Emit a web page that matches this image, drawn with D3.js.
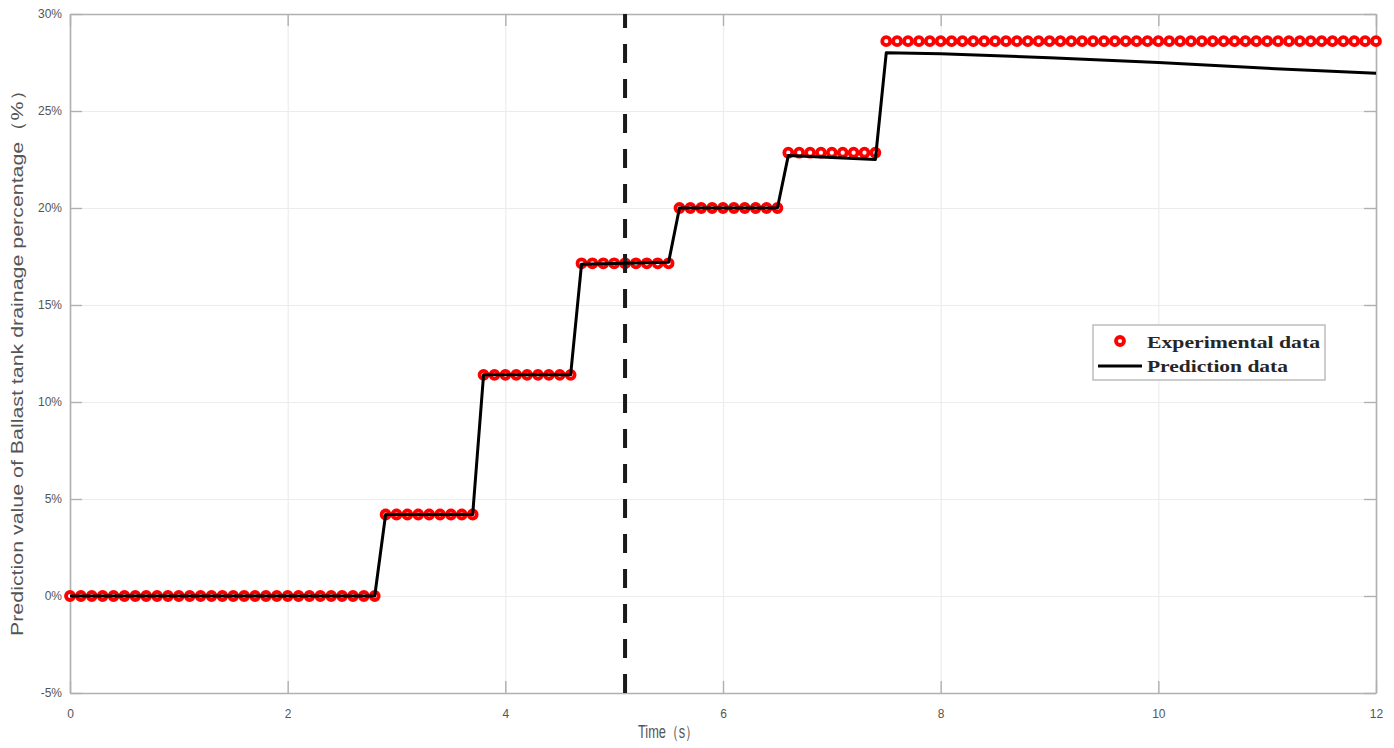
<!DOCTYPE html>
<html>
<head>
<meta charset="utf-8">
<script src="https://cdn.jsdelivr.net/npm/d3@7"></script>
<style>
    body { margin: 0; background: #fff; }
    svg { display: block; }
</style>
</head>
<body>
<svg id="chart" width="1394" height="748"></svg>
<script>
// Experimental data (time in s, value in %)
const expTime = [
    0, 0.1, 0.2, 0.3, 0.4, 0.5, 0.6, 0.7, 0.8, 0.9,
    1, 1.1, 1.2, 1.3, 1.4, 1.5, 1.6, 1.7, 1.8, 1.9,
    2, 2.1, 2.2, 2.3, 2.4, 2.5, 2.6, 2.7, 2.8, 2.9,
    3, 3.1, 3.2, 3.3, 3.4, 3.5, 3.6, 3.7, 3.8, 3.9,
    4, 4.1, 4.2, 4.3, 4.4, 4.5, 4.6, 4.7, 4.8, 4.9,
    5, 5.1, 5.2, 5.3, 5.4, 5.5, 5.6, 5.7, 5.8, 5.9,
    6, 6.1, 6.2, 6.3, 6.4, 6.5, 6.6, 6.7, 6.8, 6.9,
    7, 7.1, 7.2, 7.3, 7.4, 7.5, 7.6, 7.7, 7.8, 7.9,
    8, 8.1, 8.2, 8.3, 8.4, 8.5, 8.6, 8.7, 8.8, 8.9,
    9, 9.1, 9.2, 9.3, 9.4, 9.5, 9.6, 9.7, 9.8, 9.9,
    10, 10.1, 10.2, 10.3, 10.4, 10.5, 10.6, 10.7, 10.8, 10.9,
    11, 11.1, 11.2, 11.3, 11.4, 11.5, 11.6, 11.7, 11.8, 11.9,
    12
];
const expValue = [
    0, 0, 0, 0, 0, 0, 0, 0, 0, 0,
    0, 0, 0, 0, 0, 0, 0, 0, 0, 0,
    0, 0, 0, 0, 0, 0, 0, 0, 0, 4.2,
    4.2, 4.2, 4.2, 4.2, 4.2, 4.2, 4.2, 4.2, 11.4, 11.4,
    11.4, 11.4, 11.4, 11.4, 11.4, 11.4, 11.4, 17.15, 17.15, 17.15,
    17.15, 17.15, 17.15, 17.15, 17.15, 17.15, 20, 20, 20, 20,
    20, 20, 20, 20, 20, 20, 22.85, 22.85, 22.85, 22.85,
    22.85, 22.85, 22.85, 22.85, 22.85, 28.6, 28.6, 28.6, 28.6, 28.6,
    28.6, 28.6, 28.6, 28.6, 28.6, 28.6, 28.6, 28.6, 28.6, 28.6,
    28.6, 28.6, 28.6, 28.6, 28.6, 28.6, 28.6, 28.6, 28.6, 28.6,
    28.6, 28.6, 28.6, 28.6, 28.6, 28.6, 28.6, 28.6, 28.6, 28.6,
    28.6, 28.6, 28.6, 28.6, 28.6, 28.6, 28.6, 28.6, 28.6, 28.6,
    28.6
];

// Prediction data (polyline)
const predTime = [0, 2.8, 2.9, 3.7, 3.8, 4.6, 4.7, 5.5, 5.6, 6.5, 6.6, 7.4, 7.5, 8, 9, 10, 11, 12];
const predValue = [0, 0, 4.2, 4.2, 11.4, 11.4, 17.1, 17.2, 20.0, 20.0, 22.7, 22.5, 28.0, 27.95, 27.75, 27.5, 27.2, 26.95];

// Vertical dashed marker
const splitTime = 5.1;

const xTicks = [0, 2, 4, 6, 8, 10, 12];
const yTicks = [-5, 0, 5, 10, 15, 20, 25, 30];

const legendLabels = ['Experimental data', 'Prediction data'];

const svg = d3.select('#chart');
const margin = { top: 14, right: 18, bottom: 55, left: 70 };
const width = +svg.attr('width');
const height = +svg.attr('height');
const plotW = width - margin.left - margin.right;
const plotH = height - margin.top - margin.bottom;

const axisColor = '#b0b0b0';
const textColor = '#555';

const x = d3.scaleLinear().domain([0, 12]).range([0, plotW]);
const y = d3.scaleLinear().domain([-5, 30]).range([plotH, 0]);

const plot = svg.append('g')
    .attr('transform', `translate(${margin.left},${margin.top})`);

// Grid lines
plot.append('g')
    .call(d3.axisBottom(x).tickValues(xTicks).tickSize(-plotH).tickFormat(''))
    .attr('transform', `translate(0,${plotH})`)
    .call(g => g.select('.domain').remove())
    .call(g => g.selectAll('line').attr('stroke', '#ececec').attr('stroke-width', 1.2));

plot.append('g')
    .call(d3.axisLeft(y).tickValues(yTicks).tickSize(-plotW).tickFormat(''))
    .call(g => g.select('.domain').remove())
    .call(g => g.selectAll('line').attr('stroke', '#ececec').attr('stroke-width', 1.2));

// Axes with inward ticks on all four sides
const tickLen = 12;
function styleAxis(g) {
    g.select('.domain').attr('stroke', axisColor).attr('stroke-width', 1.6);
    g.selectAll('.tick line').attr('stroke', axisColor).attr('stroke-width', 1.4);
    g.selectAll('.tick text')
        .attr('fill', textColor)
        .style('font-family', 'Arial, "Liberation Sans", sans-serif')
        .style('font-size', '12px');
}

plot.append('g')
    .attr('transform', `translate(0,${plotH})`)
    .call(d3.axisBottom(x).tickValues(xTicks).tickSizeInner(-tickLen).tickSizeOuter(0).tickPadding(16))
    .call(styleAxis);

plot.append('g')
    .call(d3.axisTop(x).tickValues(xTicks).tickSizeInner(-tickLen).tickSizeOuter(0).tickFormat(''))
    .call(styleAxis);

plot.append('g')
    .call(d3.axisLeft(y).tickValues(yTicks).tickSizeInner(-tickLen).tickSizeOuter(0).tickPadding(8)
        .tickFormat(d => d + '%'))
    .call(styleAxis);

plot.append('g')
    .attr('transform', `translate(${plotW},0)`)
    .call(d3.axisRight(y).tickValues(yTicks).tickSizeInner(-tickLen).tickSizeOuter(0).tickFormat(''))
    .call(styleAxis);

// Experimental markers
const expData = expTime.map((t, i) => ({ t: t, v: expValue[i] }));
plot.selectAll('.exp')
    .data(expData)
    .enter().append('circle')
    .attr('class', 'exp')
    .attr('cx', d => x(d.t))
    .attr('cy', d => y(d.v))
    .attr('r', 4)
    .attr('fill', '#fff')
    .attr('stroke', '#ff0000')
    .attr('stroke-width', 3.8);

// Dashed split line (drawn from bottom up so the dashes line up with the axis)
plot.append('line')
    .attr('x1', x(splitTime))
    .attr('x2', x(splitTime))
    .attr('y1', plotH)
    .attr('y2', 0)
    .attr('stroke', '#1a1a1a')
    .attr('stroke-width', 4)
    .attr('stroke-dasharray', '19,16');

// Prediction line
const predData = predTime.map((t, i) => ({ t: t, v: predValue[i] }));
plot.append('path')
    .datum(predData)
    .attr('fill', 'none')
    .attr('stroke', '#000')
    .attr('stroke-width', 3)
    .attr('stroke-linejoin', 'round')
    .attr('d', d3.line().x(d => x(d.t)).y(d => y(d.v)));

// Axis labels
svg.append('text')
    .attr('x', 638)
    .attr('y', 738)
    .attr('fill', textColor)
    .attr('textLength', 60)
    .attr('lengthAdjust', 'spacingAndGlyphs')
    .style('font-family', 'Arial, "Liberation Sans", sans-serif')
    .style('font-size', '18px')
    .text('Time（s）');

svg.append('text')
    .attr('transform', 'translate(23,358) rotate(-90)')
    .attr('text-anchor', 'middle')
    .attr('fill', textColor)
    .attr('textLength', 556)
    .attr('lengthAdjust', 'spacingAndGlyphs')
    .style('font-family', 'Arial, "Liberation Sans", sans-serif')
    .style('font-size', '17px')
    .text('Prediction value of Ballast tank drainage percentage（%）');

// Legend
const legend = svg.append('g').attr('transform', 'translate(1093,325)');
legend.append('rect')
    .attr('width', 232)
    .attr('height', 55)
    .attr('fill', '#fff')
    .attr('stroke', '#bdbdbd')
    .attr('stroke-width', 1.5);

legend.append('circle')
    .attr('cx', 27)
    .attr('cy', 16)
    .attr('r', 4)
    .attr('fill', '#fff')
    .attr('stroke', '#ff0000')
    .attr('stroke-width', 3.8);

legend.append('line')
    .attr('x1', 5)
    .attr('x2', 49)
    .attr('y1', 41)
    .attr('y2', 41)
    .attr('stroke', '#000')
    .attr('stroke-width', 3);

const legendLengths = [173, 141];
legend.selectAll('.legend-label')
    .data(legendLabels)
    .enter().append('text')
    .attr('class', 'legend-label')
    .attr('x', 54)
    .attr('y', (d, i) => 23 + i * 24)
    .attr('fill', '#262626')
    .attr('textLength', (d, i) => legendLengths[i])
    .attr('lengthAdjust', 'spacingAndGlyphs')
    .style('font-family', '"Times New Roman", "Liberation Serif", serif')
    .style('font-weight', 'bold')
    .style('font-size', '16px')
    .text(d => d);
</script>
</body>
</html>
